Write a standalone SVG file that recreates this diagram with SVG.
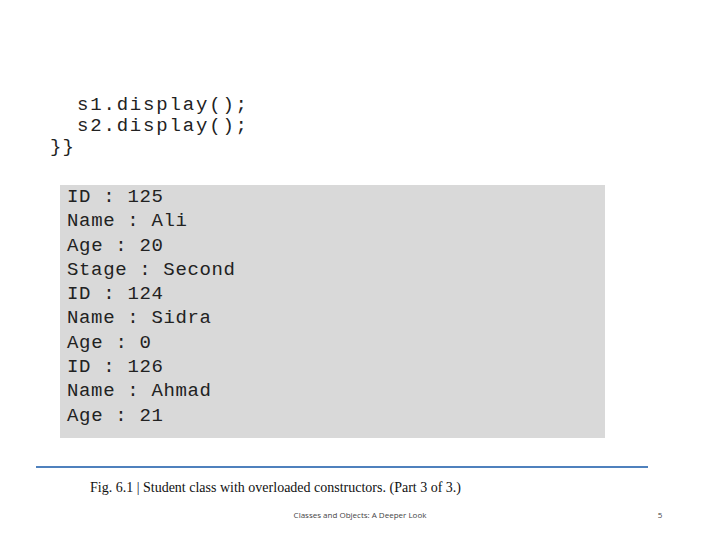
<svg xmlns="http://www.w3.org/2000/svg" width="720" height="540" viewBox="0 0 720 540">
<style>
.code{font-family:'Liberation Mono','Courier New',monospace;font-size:19px;fill:#222}
.out{font-family:'Liberation Mono','Courier New',monospace;font-size:19px;fill:#222}
</style>
<rect width="720" height="540" fill="#fff"/>
<g id="code">
<text class="code" x="77" y="110" textLength="170">s1.display();</text>
<text class="code" x="77" y="131" textLength="170">s2.display();</text>
<text class="code" x="50" y="152" textLength="24">}}</text>
</g>
<g id="output">
<rect x="60" y="185" width="545" height="253" fill="#d9d9d9"/>
<text class="out" x="67" y="202" textLength="96">ID : 125</text>
<text class="out" x="67" y="226" textLength="120">Name : Ali</text>
<text class="out" x="67" y="251" textLength="96">Age : 20</text>
<text class="out" x="67" y="275" textLength="168">Stage : Second</text>
<text class="out" x="67" y="299" textLength="96">ID : 124</text>
<text class="out" x="67" y="323" textLength="144">Name : Sidra</text>
<text class="out" x="67" y="348" textLength="84">Age : 0</text>
<text class="out" x="67" y="372" textLength="96">ID : 126</text>
<text class="out" x="67" y="396" textLength="144">Name : Ahmad</text>
<text class="out" x="67" y="421" textLength="96">Age : 21</text>
</g>
<line x1="36" y1="467" x2="648" y2="467" stroke="#4f81bd" stroke-width="2"/>
<text x="90" y="492" font-family="'Liberation Serif',serif" font-size="14" fill="#111">Fig. 6.1 | Student class with overloaded constructors. (Part 3 of 3.)</text>
<text x="360" y="518" text-anchor="middle" font-family="'Open Sans',sans-serif" font-size="8" fill="#444">Classes and Objects: A Deeper Look</text>
<text x="660" y="518" text-anchor="middle" font-family="'Open Sans',sans-serif" font-size="8" fill="#444">5</text>
</svg>
